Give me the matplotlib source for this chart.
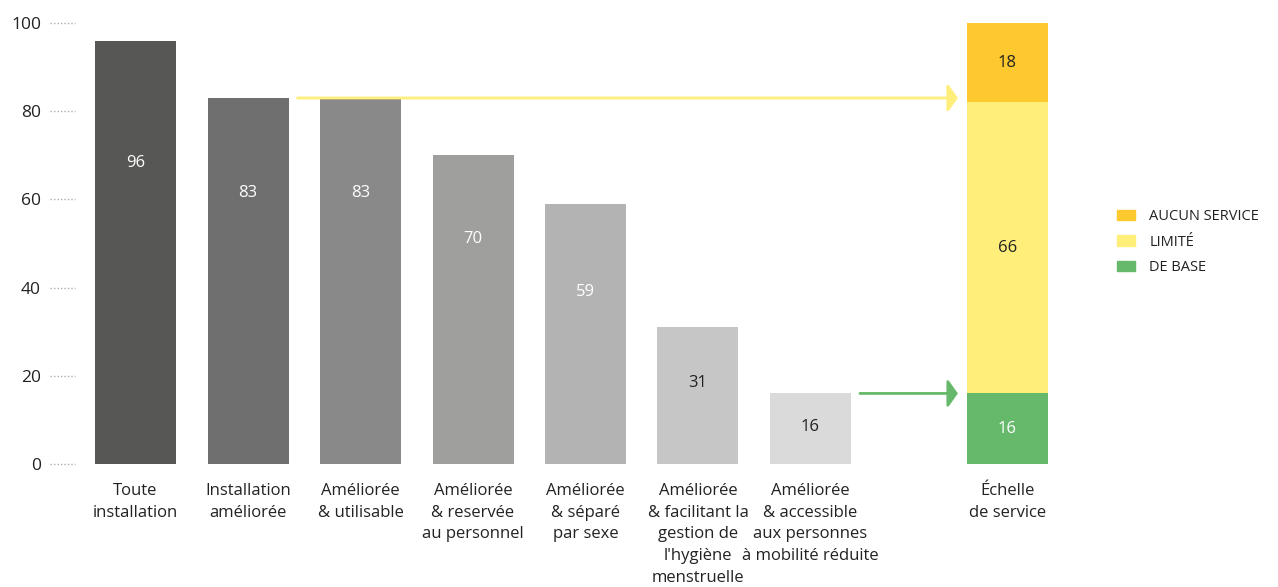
import matplotlib
matplotlib.use("Agg")
import matplotlib.pyplot as plt
from matplotlib.patches import Patch

plt.rcParams['font.family'] = ['Open Sans', 'DejaVu Sans']

# Data
categories = ["Toute\ninstallation", "Installation\naméliorée", "Améliorée\n& utilisable",
              "Améliorée\n& reservée\nau personnel", "Améliorée\n& séparé\npar sexe",
              "Améliorée\n& facilitant la\ngestion de\nl'hygiène\nmenstruelle",
              "Améliorée\n& accessible\naux personnes\nà mobilité réduite"]
values = [96, 83, 83, 70, 59, 31, 16]
ladder_label = "Échelle\nde service"
ladder_names = ["DE BASE", "LIMITÉ", "AUCUN SERVICE"]
ladder_values = [16, 66, 18]
yticks = [0, 20, 40, 60, 80, 100]

# Styles
bar_colors = ["#575755", "#6f6f6f", "#898989", "#9f9f9d", "#b3b3b3", "#c6c6c6", "#dadada"]
text_colors = ["white", "white", "white", "white", "white", "#222222", "#222222"]
label_frac = [0.71, 0.74, 0.74, 0.73, 0.66, 0.59, 0.52]
ladder_colors = ["#66b96a", "#ffee7a", "#fdc92e"]
ladder_text = ["white", "#222222", "#222222"]
ladder_x = 7.75
width = 0.72

fig = plt.figure(figsize=(12.78, 5.87), dpi=100)
ax = fig.add_axes([48 / 1278, 123 / 587, 1012 / 1278, 441 / 587])

xs = list(range(len(values)))
ax.bar(xs, values, width=width, color=bar_colors)
for x, v, c, f in zip(xs, values, text_colors, label_frac):
    ax.text(x, v * f, str(v), ha="center", va="center", fontsize=12, color=c)

# stacked service ladder bar
bottom = 0
for v, c, tc in zip(ladder_values, ladder_colors, ladder_text):
    ax.bar(ladder_x, v, bottom=bottom, width=width, color=c)
    ax.text(ladder_x, bottom + v / 2, str(v), ha="center", va="center", fontsize=12, color=tc)
    bottom += v

# arrows
ax.annotate("", xy=(7.31, values[1]), xytext=(1.44, values[1]),
            arrowprops=dict(arrowstyle="-|>,head_length=0.6,head_width=0.85",
                            color="#ffee7a", lw=2, mutation_scale=10, shrinkA=0, shrinkB=0))
ax.annotate("", xy=(7.31, ladder_values[0]), xytext=(6.44, ladder_values[0]),
            arrowprops=dict(arrowstyle="-|>,head_length=0.6,head_width=0.85",
                            color="#66b96a", lw=2, mutation_scale=10, shrinkA=0, shrinkB=0))

ax.set_xlim(-0.778, 8.218)
ax.set_ylim(0, 100)

# short dotted lines next to y tick labels
for t in yticks:
    ax.plot([0.002, 0.027], [t, t], transform=ax.get_yaxis_transform(),
            color="#aaaaaa", lw=1, ls=(0, (1, 1.5)), clip_on=False)

ax.set_yticks(yticks)
ax.set_yticklabels([str(t) for t in yticks], fontsize=12.5, color="#222222")
ax.set_xticks(xs + [ladder_x])
ax.set_xticklabels(categories + [ladder_label], fontsize=12, color="#222222", linespacing=1.46)
ax.tick_params(axis="both", length=0)
ax.tick_params(axis="y", pad=5)
ax.tick_params(axis="x", pad=14)
for s in ax.spines.values():
    s.set_visible(False)

handles = [Patch(color=c, label=n) for c, n in zip(ladder_colors[::-1], ladder_names[::-1])]
fig.legend(handles=handles, loc="upper left", bbox_to_anchor=(1104 / 1278, 1 - 196 / 587),
           frameon=False, fontsize=10.5, handlelength=1.25, handleheight=0.75,
           labelspacing=0.72, handletextpad=0.95, labelcolor="#222222")

fig.savefig("out.png", dpi=100)
